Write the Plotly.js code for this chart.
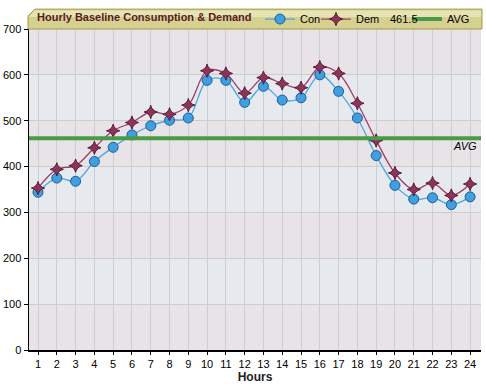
<!DOCTYPE html>
<html><head><meta charset="utf-8">
<script src="https://cdn.plot.ly/plotly-3.0.1.min.js"></script>
<style>html,body{margin:0;padding:0;background:#fff;}#c{width:486px;height:384px;}</style>
</head><body><div id="c"></div>
<script>
const hours = [1,2,3,4,5,6,7,8,9,10,11,12,13,14,15,16,17,18,19,20,21,22,23,24];
const con = [344,375,368,411,442,469,489,501,506,588,588,540,575,545,550,600,564,506,424,359,329,332,317,334];
const dem = [353,394,402,441,478,496,519,514,534,609,603,560,594,581,572,617,603,538,457,386,350,364,337,362];
const avgValue = 461.5;
const bands = [0,100,200,300,400,500,600];
const yTicks = [0,100,200,300,400,500,600,700];
const titleText = "Hourly Baseline Consumption & Demand";

const FONT = "Liberation Sans, Arial, sans-serif";

const traces = [
  {x: hours, y: con, name: 'Con', type: 'scatter', mode: 'lines+markers', legend: 'legend',
   line: {color: '#4aa6e2', width: 1.3, shape: 'spline', smoothing: 1},
   marker: {symbol: 'circle', size: 10, color: '#3f9fe0', line: {color: '#1d5e92', width: 1}}},
  {x: hours, y: dem, name: 'Dem', type: 'scatter', mode: 'lines+markers', legend: 'legend2',
   line: {color: '#a03c68', width: 1.3, shape: 'spline', smoothing: 1},
   marker: {symbol: 'star-diamond', size: 9.5, color: '#8c3358', line: {color: '#5a1a38', width: 1}}},
  {x: [null], y: [null], name: 'AVG', type: 'scatter', mode: 'lines', legend: 'legend3',
   line: {color: '#4a9a48', width: 4}}
];

const shapes = [];
bands.forEach((b, i) => {
  shapes.push({type: 'rect', xref: 'paper', yref: 'y', x0: 0, x1: 1, y0: b, y1: b + 100,
    fillcolor: i % 2 === 0 ? '#e8e3e6' : '#e6eaef', line: {width: 0}, layer: 'below'});
});
shapes.push({type: 'line', xref: 'paper', yref: 'y', x0: 0, x1: 1, y0: avgValue, y1: avgValue,
  line: {color: '#4a9a48', width: 4}, layer: 'above'});
// title bar
const W = 452, H = 323;
const px = v => v / W, py = v => 1 + v / H;
const bx0 = px(-1), bx1 = px(453), byT = py(20), byB = py(0), notchY = py(13), notchX = px(6);
shapes.push({type: 'path', xref: 'paper', yref: 'paper',
  path: `M ${bx0} ${byB} L ${bx0} ${notchY} L ${notchX} ${byT} L ${bx1} ${byT} L ${bx1} ${byB} Z`,
  fillcolor: '#d6d191', line: {color: '#a19b45', width: 1}, layer: 'above'});
shapes.push({type: 'path', xref: 'paper', yref: 'paper',
  path: `M ${px(0)} ${py(12)} L ${px(5.5)} ${py(18.5)} L ${px(452)} ${py(18.5)} L ${px(452)} ${py(12)} Z`,
  fillcolor: '#e6e3b4', line: {width: 0}, layer: 'above'});

const legBase = {orientation: 'h', xref: 'paper', xanchor: 'left', yref: 'paper', y: 1 + 10/323, yanchor: 'middle',
  bgcolor: 'rgba(0,0,0,0)', borderwidth: 0, font: {family: FONT, size: 11, color: '#000'}, itemwidth: 30};

const layout = {
  width: 486, height: 384,
  margin: {l: 29, r: 5, t: 27, b: 34, pad: 0},
  paper_bgcolor: '#ffffff', plot_bgcolor: 'rgba(0,0,0,0)',
  font: {family: FONT, size: 11, color: '#000'},
  title: {text: '<b>' + titleText + '</b>', font: {family: FONT, size: 11, color: '#5a1a22'},
    xref: 'container', x: 37/486, xanchor: 'left', yref: 'container', y: 1 - 17/384, yanchor: 'middle'},
  xaxis: {range: [0.52, 24.58], tickvals: hours, ticktext: hours.map(String),
    showgrid: true, gridcolor: '#cdcdd0', gridwidth: 1, zeroline: false,
    showline: true, linecolor: '#000', linewidth: 1.5, ticks: 'outside', ticklen: 3, tickcolor: '#000',
    tickfont: {family: FONT, size: 11, color: '#000'},
    title: {text: '<b>Hours</b>', font: {family: FONT, size: 12, color: '#222'}, standoff: 0},
    fixedrange: true},
  yaxis: {range: [0, 700], tickvals: yTicks, ticktext: yTicks.map(String),
    showgrid: true, gridcolor: '#cdcdd0', gridwidth: 1, zeroline: false,
    showline: true, linecolor: '#000', linewidth: 1.5, ticks: 'outside', ticklen: 4, tickcolor: '#000',
    tickfont: {family: FONT, size: 11, color: '#000'}, fixedrange: true},
  showlegend: true,
  legend: Object.assign({}, legBase, {x: px(300 - 29 - 40)}),
  legend2: Object.assign({}, legBase, {x: px(356 - 29 - 40)}),
  legend3: Object.assign({}, legBase, {x: px(447 - 29 - 40)}),
  shapes: shapes,
  annotations: [
    {xref: 'paper', yref: 'y', x: 0.995, y: avgValue, xanchor: 'right', yanchor: 'top', yshift: 0,
     text: '<i>AVG</i>', showarrow: false, font: {family: FONT, size: 11, color: '#000'}},
    {xref: 'paper', yref: 'paper', x: px(420 - 29), y: 1 + 10/323, xanchor: 'right', yanchor: 'middle',
     text: String(avgValue), showarrow: false, font: {family: FONT, size: 11, color: '#000'}}
  ]
};

Plotly.newPlot('c', traces, layout, {displayModeBar: false, staticPlot: true});
</script></body></html>
